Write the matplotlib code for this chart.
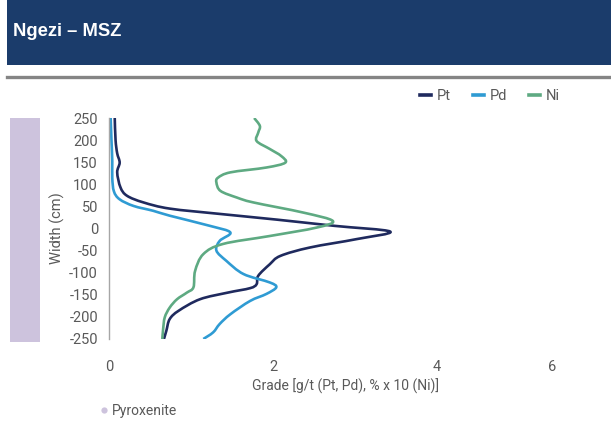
import matplotlib
matplotlib.use("Agg")
import numpy as np
import matplotlib.pyplot as plt
from matplotlib.patches import Rectangle, PathPatch
from matplotlib.path import Path
from matplotlib.lines import Line2D
from matplotlib import font_manager

# ---- data ----
pt_depth = [250, 200, 170, 149, 127, 93, 74, 59, 45, 33, 20, 6, -7, -24, -43, -62, -81,
            -107, -126, -135, -145, -160, -186, -205, -231, -250]
pt_grade = [0.07, 0.08, 0.10, 0.13, 0.10, 0.14, 0.22, 0.42, 0.74, 1.35, 2.05, 2.75, 3.43,
            3.02, 2.45, 2.09, 1.96, 1.82, 1.80, 1.72, 1.45, 1.11, 0.85, 0.74, 0.70, 0.67]

pd_depth = [250, 200, 152, 114, 84, 66, 51, 40, 29, 6, -9, -28, -50, -73, -103, -122,
            -133, -148, -164, -194, -216, -235, -250]
pd_grade = [0.02, 0.03, 0.04, 0.04, 0.06, 0.13, 0.30, 0.54, 0.74, 1.23, 1.48, 1.35, 1.31,
            1.43, 1.64, 1.96, 2.04, 1.92, 1.72, 1.48, 1.35, 1.27, 1.15]

ni_depth = [250, 232, 217, 198, 180, 164, 149, 138, 127, 115, 104, 85, 70, 59, 36, 17, 2,
            -17, -35, -58, -96, -133, -145, -160, -179, -201, -228, -250]
ni_grade = [1.77, 1.84, 1.82, 1.80, 1.96, 2.10, 2.15, 1.92, 1.48, 1.33, 1.31, 1.36, 1.56,
            1.76, 2.37, 2.73, 2.53, 1.96, 1.39, 1.15, 1.05, 1.03, 0.95, 0.83, 0.74, 0.68,
            0.66, 0.65]

series_names = ["Pt", "Pd", "Ni"]
y_ticks = [250, 200, 150, 100, 50, 0, -50, -100, -150, -200, -250]
x_tick_labels = ["0", "2", "4", "6"]
title = "Ngezi – MSZ"
x_label = "Grade [g/t (Pt, Pd), % x 10 (Ni)]"
y_label = "Width (cm)"
zone_label = "Pyroxenite"

# ---- fonts ----
installed = {f.name for f in font_manager.fontManager.ttflist}
narrow = "Liberation Sans Narrow" if "Liberation Sans Narrow" in installed else "Roboto"
plt.rcParams["font.family"] = [narrow, "DejaVu Sans"]

W, H = 611, 421
fig = plt.figure(figsize=(W / 100, H / 100), dpi=100)
fig.patch.set_facecolor("white")


def fx(px):
    return px / W


def fy(py):
    return 1 - py / H


def smooth_path(xs, ys):
    """Catmull-Rom spline through the data points, as cubic Bezier segments."""
    p = np.column_stack([xs, ys]).astype(float)
    n = len(p)
    verts = [p[0]]
    codes = [Path.MOVETO]
    for i in range(n - 1):
        p0 = p[i - 1] if i > 0 else p[i]
        p1 = p[i]
        p2 = p[i + 1]
        p3 = p[i + 2] if i + 2 < n else p[i + 1]
        c1 = p1 + (p2 - p0) / 6.0
        c2 = p2 - (p3 - p1) / 6.0
        verts += [c1, c2, p2]
        codes += [Path.CURVE4] * 3
    return Path(verts, codes)


# header band
fig.add_artist(Rectangle((fx(7), fy(65)), fx(611 - 7), 65 / H,
                         transform=fig.transFigure, facecolor="#1b3c6b", edgecolor="none"))
fig.text(fx(13), fy(32), title, color="white", fontsize=13.2, fontweight="bold",
         family=["Liberation Sans", "DejaVu Sans"], va="center", ha="left")
# grey rule
fig.add_artist(Line2D([fx(7), 1], [fy(76.5), fy(76.5)], transform=fig.transFigure,
                      color="#858585", linewidth=2.4))

# purple zone bar
zone_color = "#cdc3dd"
fig.add_artist(Rectangle((fx(10), fy(342)), fx(30), (342 - 118) / H,
                         transform=fig.transFigure, facecolor=zone_color, edgecolor="none"))

# axes
ax = fig.add_axes([fx(109), fy(339), fx(492), (339 - 118) / H])
colors = ["#1f2a5e", "#2f9bd3", "#5eaa82"]
handles = []
for name, g, d, c in zip(series_names, [pt_grade, pd_grade, ni_grade],
                         [pt_depth, pd_depth, ni_depth], colors):
    patch = PathPatch(smooth_path(g, d), facecolor="none", edgecolor=c, linewidth=1.9,
                      capstyle="butt", joinstyle="round")
    ax.add_patch(patch)
    handles.append(Line2D([], [], color=c, linewidth=2.6, label=name))

ax.set_xlim(0, 6)
ax.set_ylim(-250, 250)
for s in ["top", "right", "bottom"]:
    ax.spines[s].set_visible(False)
ax.spines["left"].set_color("#a6a6a6")
ax.spines["left"].set_linewidth(1.0)
ax.set_yticks(y_ticks)
ax.set_yticklabels([str(v) for v in y_ticks])
ax.set_xticks([0, 2, 4, 5.4])
ax.set_xticklabels(x_tick_labels)
ax.tick_params(axis="y", length=0, pad=8, labelsize=10.5, labelcolor="#595959")
ax.tick_params(axis="x", length=0, pad=15, labelsize=10.5, labelcolor="#595959")
ax.set_facecolor("none")

fig.text(fx(57), fy(228), y_label, rotation=90, ha="center", va="center",
         fontsize=10.5, color="#595959")
fig.text(fx(346), fy(386), x_label, ha="center", va="center",
         fontsize=10, color="#595959")

# series legend
leg = fig.legend(handles=handles, loc="center left",
                 bbox_to_anchor=(fx(420), fy(96)), bbox_transform=fig.transFigure,
                 ncol=3, frameon=False, fontsize=10.5, handlelength=0.75,
                 handletextpad=0.4, columnspacing=1.5, borderpad=0, borderaxespad=0)
for t in leg.get_texts():
    t.set_color("#595959")

# zone legend
zh = Line2D([], [], linestyle="none", marker="o", markersize=4.5,
            markerfacecolor=zone_color, markeredgecolor="none")
leg2 = fig.legend(handles=[zh], labels=[zone_label], loc="center left",
                  bbox_to_anchor=(fx(98), fy(411)), bbox_transform=fig.transFigure,
                  frameon=False, fontsize=10, handlelength=0.8, handletextpad=0.2,
                  borderpad=0, borderaxespad=0)
for t in leg2.get_texts():
    t.set_color("#595959")

fig.savefig("out.png", dpi=100)
